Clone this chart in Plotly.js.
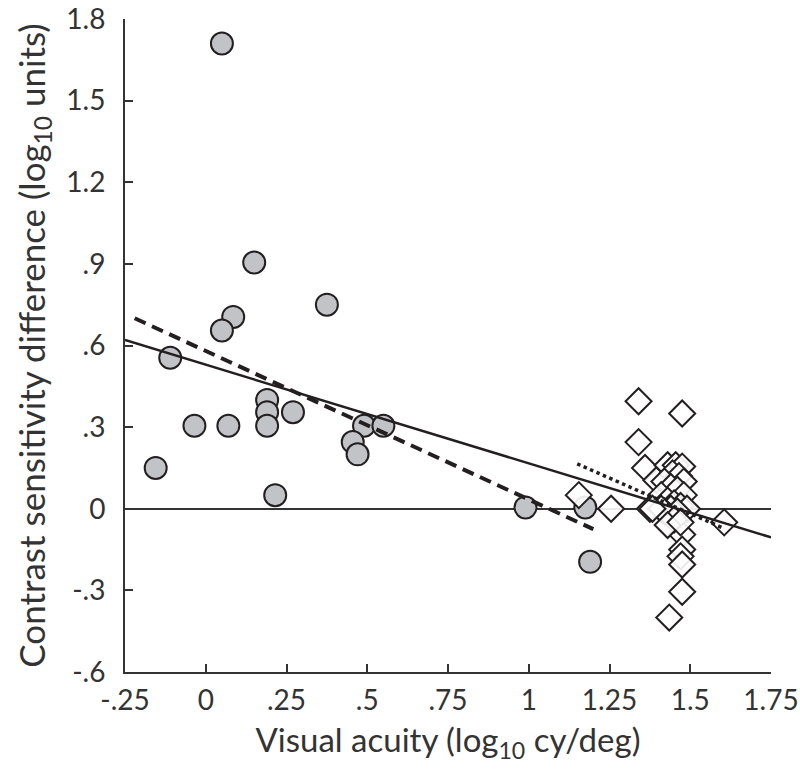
<!DOCTYPE html>
<html>
<head>
<meta charset="utf-8">
<script src="https://cdn.plot.ly/plotly-3.0.1.min.js"></script>
<style>html,body{margin:0;padding:0;background:#fff;}#chart{width:800px;height:784px;}</style>
</head>
<body>
<div id="chart"></div>
<script>
// Gray circles
const circleX = [0.05, 0.085, 0.05, 0.15, 0.375, -0.11, -0.035, 0.07, 0.19, 0.19, 0.19, 0.27, -0.155, 0.215, 0.49, 0.55, 0.455, 0.47, 0.99, 1.175, 1.19];
const circleY = [1.71, 0.705, 0.655, 0.905, 0.75, 0.555, 0.305, 0.305, 0.40, 0.355, 0.305, 0.355, 0.15, 0.05, 0.305, 0.305, 0.245, 0.20, 0.005, 0.005, -0.195];
// Open diamonds
const diamondX = [1.34, 1.475, 1.34, 1.36, 1.155, 1.255, 1.605, 1.375, 1.395, 1.475, 1.475, 1.47, 1.475, 1.475, 1.435,
  1.43, 1.455, 1.475, 1.445, 1.465, 1.48, 1.42, 1.44, 1.46, 1.48, 1.41, 1.43, 1.45, 1.47, 1.49, 1.44, 1.42, 1.46, 1.41, 1.45, 1.43, 1.47, 1.383];
const diamondY = [0.395, 0.35, 0.245, 0.15, 0.05, 0.0, -0.05, 0.0, 0.105, -0.095, -0.15, -0.175, -0.205, -0.305, -0.40,
  0.16, 0.16, 0.155, 0.13, 0.12, 0.10, 0.10, 0.08, 0.07, 0.05, 0.05, 0.03, 0.02, 0.01, 0.0, 0.0, -0.01, -0.01, 0.0, -0.04, -0.06, -0.05, 0.0];
// Fit lines (end points)
const solidX = [-0.25, 1.75];
const solidY = [0.62, -0.105];
const dashX = [-0.22, 1.20];
const dashY = [0.70, -0.075];
const dotX = [1.15, 1.60];
const dotY = [0.165, -0.07];
// Ticks
const xTickVals = [-0.25, 0, 0.25, 0.5, 0.75, 1, 1.25, 1.5, 1.75];
const xTickText = ["-.25", "0", ".25", ".5", ".75", "1", "1.25", "1.5", "1.75"];
const yTickVals = [-0.6, -0.3, 0, 0.3, 0.6, 0.9, 1.2, 1.5, 1.8];
const yTickText = ["-.6", "-.3", "0", ".3", ".6", ".9", "1.2", "1.5", "1.8"];

const ink = '#231f20';
const traces = [
  {x: circleX, y: circleY, mode: 'markers', type: 'scatter', cliponaxis: false,
   marker: {symbol: 'circle', size: 22, color: '#c2c3c7', line: {color: ink, width: 2}}},
  {x: diamondX, y: diamondY, mode: 'markers', type: 'scatter', cliponaxis: false,
   marker: {symbol: 'diamond', size: 20, color: 'rgba(255,255,255,0.9)', line: {color: ink, width: 2}}},
  {x: solidX, y: solidY, mode: 'lines', type: 'scatter', line: {color: ink, width: 2.5}},
  {x: dashX, y: dashY, mode: 'lines', type: 'scatter', line: {color: ink, width: 4, dash: '12px,7px'}},
  {x: dotX, y: dotY, mode: 'lines', type: 'scatter', line: {color: ink, width: 3.5, dash: 'dot'}}
];

const font = {family: 'Lato, "Open Sans", sans-serif', color: '#333'};
const layout = {
  width: 800, height: 784,
  margin: {l: 125, r: 29, t: 19, b: 112},
  paper_bgcolor: '#fff', plot_bgcolor: '#fff',
  showlegend: false,
  font: font,
  xaxis: {
    range: [-0.25, 1.75], tickvals: xTickVals, ticktext: xTickText,
    showgrid: false, zeroline: false, showline: true, linecolor: '#333', linewidth: 2,
    ticks: 'inside', ticklen: 8, tickwidth: 2, tickcolor: '#333',
    tickfont: {family: font.family, size: 28, color: '#333'},
    ticklabelstandoff: 2,
    title: {text: 'Visual acuity (log<sub>10</sub> cy/deg)', font: {family: font.family, size: 33, color: '#333'}, standoff: 14}
  },
  yaxis: {
    range: [-0.6, 1.8], tickvals: yTickVals, ticktext: yTickText,
    showgrid: false, zeroline: true, zerolinecolor: '#333', zerolinewidth: 2,
    showline: true, linecolor: '#333', linewidth: 2,
    ticks: 'inside', ticklen: 8, tickwidth: 2, tickcolor: '#333',
    tickfont: {family: font.family, size: 28, color: '#333'},
    ticklabelstandoff: 12,
    title: {text: 'Contrast sensitivity difference (log<sub>10</sub> units)', font: {family: font.family, size: 35, color: '#333'}, standoff: 10}
  }
};
Plotly.newPlot('chart', traces, layout, {staticPlot: true});
</script>
</body>
</html>
